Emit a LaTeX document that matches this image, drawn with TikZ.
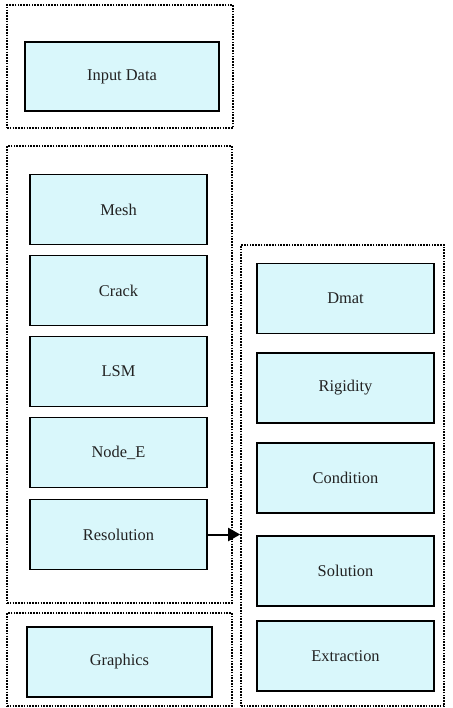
\documentclass[tikz,border=0pt]{standalone}
\usepackage{fontspec}
\setmainfont{Liberation Serif}
\usepackage{tikz}
\usetikzlibrary{positioning,arrows.meta}

\definecolor{boxfill}{HTML}{D9F7FB}
\definecolor{boxtext}{HTML}{222222}

\begin{document}
\begin{tikzpicture}[
  x=0.5pt, y=-0.5pt,
  node distance=4.8pt,
  block/.style={draw, line width=0.7pt, fill=boxfill, text=boxtext, font=\fontsize{8.2}{10}\selectfont, minimum width=88.5pt, minimum height=35pt, align=center, inner sep=0pt},
  group/.style={draw, line width=0.8pt, dash pattern=on 0.8pt off 0.6pt, inner sep=0pt},
  arrow/.style={-{Triangle[length=6pt, width=6.5pt]}, line width=1pt}
]
\useasboundingbox (0,0) rectangle (452,708);
% dotted frames
\node[group, minimum width=113pt, minimum height=61.5pt] (inframe) at (120,66.5) {};
\node[group, minimum width=112.5pt, minimum height=228.5pt] (preframe) at (119.5,374.5) {};
\node[group, minimum width=112.5pt, minimum height=46.5pt] (postframe) at (119.5,659.5) {};
\node[group, minimum width=101.5pt, minimum height=230.5pt] (solveframe) at (342.5,475.5) {};
% input and output
\node[block, minimum width=97pt, minimum height=34.5pt] (input) at (122,76.5) {Input Data};
\node[block, minimum width=92.5pt] (graphics) at (119.5,662) {Graphics};
% left column
\node[block] (mesh) at (118.5,209.5) {Mesh};
\node[block, below=of mesh] (crack) {Crack};
\node[block, below=of crack] (lsm) {LSM};
\node[block, below=of lsm] (nodee) {Node\_E};
\node[block, below=5.3pt of nodee] (resolution) {Resolution};
% right column
\node[block] (dmat) at (345.5,298.5) {Dmat};
\node[block, below=9pt of dmat] (rigidity) {Rigidity};
\node[block, below=9.3pt of rigidity] (condition) {Condition};
\node[block, below=10.8pt of condition] (solution) {Solution};
\node[block, below=6.8pt of solution] (extraction) {Extraction};
\draw[arrow] (resolution.east) -- (resolution.east -| solveframe.west);
\end{tikzpicture}
\end{document}
